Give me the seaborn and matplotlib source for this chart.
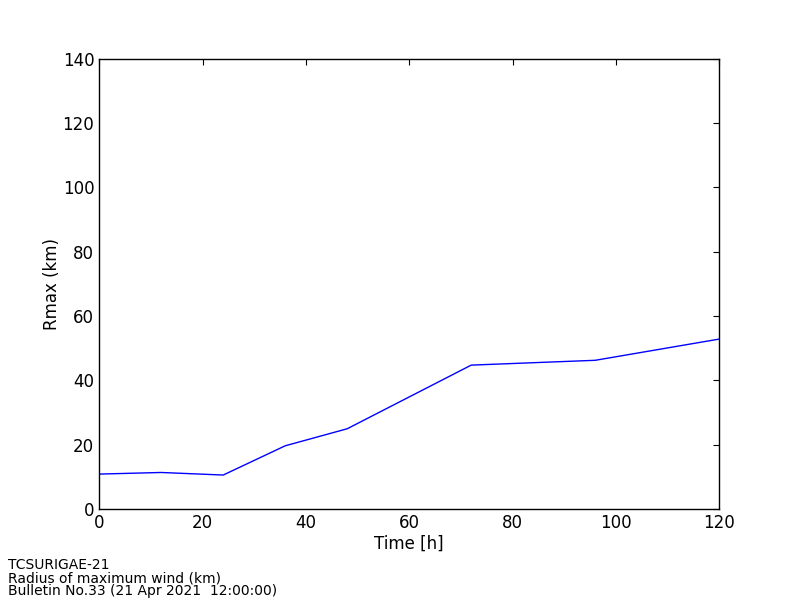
import matplotlib
matplotlib.use('Agg')
import matplotlib.pyplot as plt
import seaborn as sns
import pandas as pd

# forecast hours and radius of maximum wind (km)
tempo = [0, 12, 24, 36, 48, 72, 96, 120]
rmax = [10.8, 11.3, 10.5, 19.6, 24.9, 44.7, 46.2, 52.8]

df = pd.DataFrame({'tempo': tempo, 'rmax': rmax})

sns.set_style('white')
plt.rcParams['font.family'] = ['DejaVu Sans']
plt.rcParams['text.color'] = 'black'
plt.rcParams['axes.labelcolor'] = 'black'
plt.rcParams['xtick.color'] = 'black'
plt.rcParams['ytick.color'] = 'black'

fig = plt.figure(figsize=(8, 6), dpi=100)
ax = fig.add_axes([0.124, 0.152, 0.775, 0.75])
sns.lineplot(data=df, x='tempo', y='rmax', color='blue', linewidth=1, ax=ax)

ax.set_xlim(0, 120)
ax.set_ylim(0, 140)
ax.set_xticks(range(0, 121, 20))
ax.set_yticks(range(0, 141, 20))
ax.set_xlabel('Time [h]', fontsize=12, labelpad=2)
ax.set_ylabel('Rmax (km)', fontsize=12, labelpad=1)
ax.tick_params(direction='in', top=True, right=True, length=4, width=0.8,
               labelsize=12, color='black', labelcolor='black')
for s in ax.spines.values():
    s.set_color('black')
    s.set_linewidth(1)

fig.text(0.01, 0.003, 'TCSURIGAE-21\nRadius of maximum wind (km)\nBulletin No.33 (21 Apr 2021  12:00:00)',
         fontsize=10, va='bottom', ha='left', linespacing=0.9, color='black')

fig.savefig('out.png', dpi=100)
